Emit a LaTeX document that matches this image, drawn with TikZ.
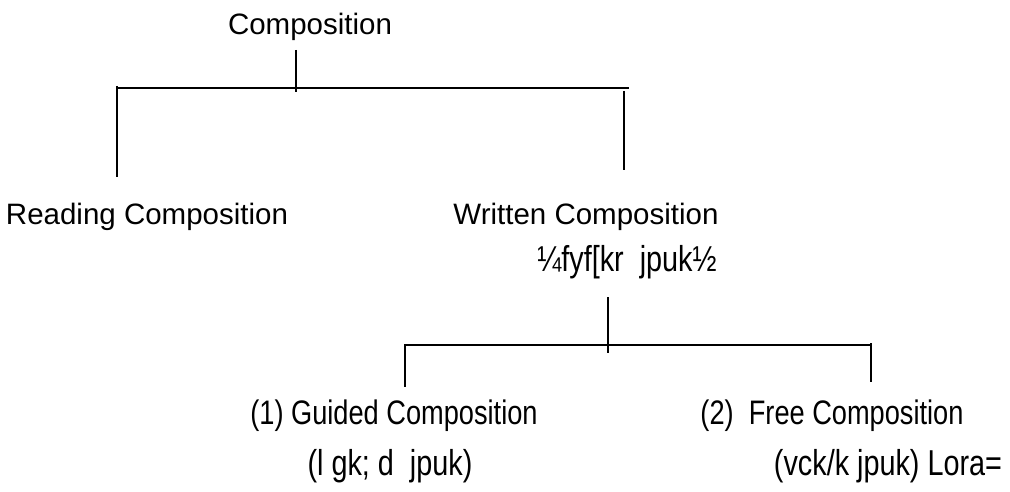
\documentclass[tikz,border=0pt]{standalone}
\usepackage{fontspec}
\setmainfont{Liberation Sans}
\newfontfamily\upfont{Liberation Sans}
\newfontfamily\lowfont[FakeStretch=0.8]{Liberation Sans}
\begin{document}
\begin{tikzpicture}[x=1pt,y=-1pt]
\tikzset{
  uptext/.style={font=\upfont\fontsize{29.5}{33}\selectfont, inner sep=0pt, anchor=base},
  lowtext/.style={font=\lowfont\fontsize{34}{38}\selectfont, inner sep=0pt, anchor=base},
  hitext/.style={font=\lowfont\fontsize{36}{40}\selectfont, inner sep=0pt, anchor=base}
}
\tikzset{treeline/.style={line width=2.5pt, black}}
\useasboundingbox (0,0) rectangle (1010,492);
% texts
\node[uptext] (root) at (310,35) {Composition};
\node[uptext] (reading) at (147,225) {Reading Composition};
\node[uptext] (written) at (586,225) {Written Composition};
\node[hitext] (writtenhi) at (627,271) {¼fyf[kr\ \ jpuk½};
\node[lowtext] (guided) at (394,424) {(1) Guided Composition};
\node[lowtext] (free) at (832,424) {(2)\ \ Free Composition};
\node[hitext] (guidedhi) at (390,475) {(l gk; d\ \ jpuk)};
\node[hitext] (freehi) at (888,475) {(vck/k jpuk) Lora=};
% tree 1
\coordinate (s1a) at (296,50);
\coordinate (s1b) at (296,92);
\coordinate (h1l) at (117,88);
\coordinate (h1r) at (629,88);
\coordinate (l1a) at (117,86);
\coordinate (l1b) at (117,177);
\coordinate (r1a) at (624,91);
\coordinate (r1b) at (624,170);
\draw[treeline] (s1a) -- (s1b);
\draw[treeline] (h1l) -- (h1r);
\draw[treeline] (l1a) -- (l1b);
\draw[treeline] (r1a) -- (r1b);
% tree 2
\coordinate (s2a) at (608,297);
\coordinate (s2b) at (608,353);
\coordinate (h2l) at (405,345);
\coordinate (h2r) at (872,345);
\coordinate (l2a) at (405,344);
\coordinate (l2b) at (405,387);
\coordinate (r2a) at (871,343);
\coordinate (r2b) at (871,382);
\draw[treeline] (s2a) -- (s2b);
\draw[treeline] (h2l) -- (h2r);
\draw[treeline] (l2a) -- (l2b);
\draw[treeline] (r2a) -- (r2b);
\end{tikzpicture}
\end{document}
